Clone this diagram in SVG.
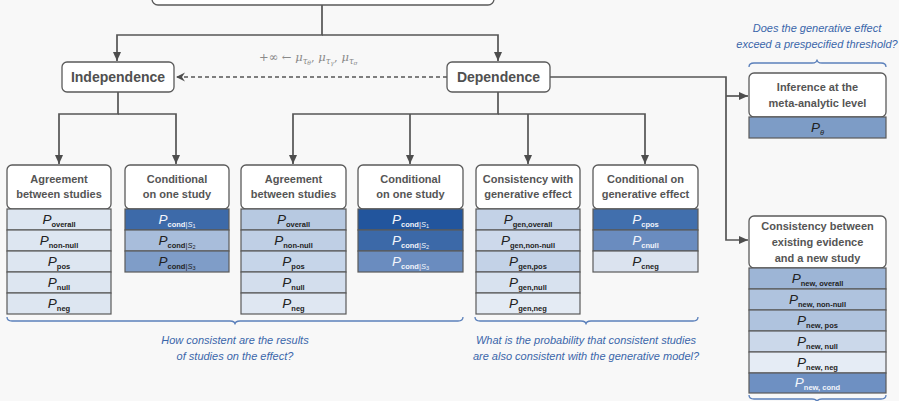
<svg xmlns="http://www.w3.org/2000/svg" width="899" height="401" viewBox="0 0 899 401">
<style>
.bg{fill:#f8f8f8}
.box{fill:#ffffff;stroke:#5a5a5a;stroke-width:1.3}
.row{stroke:#5a5a5a;stroke-width:1.2}
.t{font-family:"Liberation Sans",Arial,sans-serif;font-weight:bold;font-size:11px;fill:#555555;text-anchor:middle}
.big{font-family:"Liberation Sans",Arial,sans-serif;font-weight:bold;font-size:14px;fill:#505050;text-anchor:middle}
.lab{font-family:"Liberation Sans",Arial,sans-serif;font-size:13.5px;fill:#222222;text-anchor:middle}
.w{fill:#f2f5fb}
.p{font-style:italic}
.sb{font-weight:bold;font-size:7.5px}
.si{font-style:italic;font-size:7.5px}
.ss{font-size:5.5px}
.q{font-family:"Liberation Sans",Arial,sans-serif;font-style:italic;font-size:11px;fill:#3a66aa;text-anchor:middle}
.brace{fill:none;stroke:#5b80bb;stroke-width:1.3}
.con{fill:none;stroke:#555555;stroke-width:1.7}
.dash{fill:none;stroke:#555555;stroke-width:1.7;stroke-dasharray:4,3}
.math{font-family:"DejaVu Serif","Liberation Serif",serif;font-size:11.5px;fill:#8a8a8a}
</style>
<defs>
<marker id="ah" markerUnits="userSpaceOnUse" markerWidth="10" markerHeight="10" refX="9" refY="4" orient="auto">
<path d="M0,0 L9,4 L0,8 z" fill="#4d4d4d"/>
</marker>
<marker id="ahd" markerUnits="userSpaceOnUse" markerWidth="12" markerHeight="10" refX="9" refY="4.5" orient="auto">
<path d="M0,0 L9,4.5 L0,9 L3,4.5 z" fill="#4d4d4d"/>
</marker>
</defs>
<rect class="bg" x="0" y="0" width="899" height="401"/>

<g id="connectors">
<path class="con" d="M322,5 V35 H117 V61" marker-end="url(#ah)"/>
<path class="con" d="M322,35 H498 V61" marker-end="url(#ah)"/>
<path class="con" d="M118,92 V114 H59 V164" marker-end="url(#ah)"/>
<path class="con" d="M118,114 H176 V164" marker-end="url(#ah)"/>
<path class="con" d="M498,92 V114 H293 V164" marker-end="url(#ah)"/>
<path class="con" d="M410,114 V164" marker-end="url(#ah)"/>
<path class="con" d="M498,114 H645 V164" marker-end="url(#ah)"/>
<path class="con" d="M528,114 V164" marker-end="url(#ah)"/>
<path class="con" d="M550,77 H726 V240 H748" marker-end="url(#ah)"/>
<path class="con" d="M726,96 H748" marker-end="url(#ah)"/>
<path class="dash" d="M447,77 H176" marker-end="url(#ahd)"/>
<text class="math" x="259" y="61">+∞ ← <tspan font-style="italic">μ</tspan><tspan font-style="italic" font-size="8.5" dy="2.5">τ</tspan><tspan font-style="italic" font-size="6" dy="1.5">θ</tspan><tspan dy="-4">, </tspan><tspan font-style="italic">μ</tspan><tspan font-style="italic" font-size="8.5" dy="2.5">τ</tspan><tspan font-style="italic" font-size="6" dy="1.5">γ</tspan><tspan dy="-4">, </tspan><tspan font-style="italic">μ</tspan><tspan font-style="italic" font-size="8.5" dy="2.5">τ</tspan><tspan font-style="italic" font-size="6" dy="1.5">σ</tspan></text>
</g>

<g id="root">
<rect class="box" x="152" y="-40" width="342" height="45" rx="6"/>
</g>

<g id="independence">
<rect class="box" x="62" y="62" width="112" height="30" rx="5"/>
<text class="big" x="118" y="82">Independence</text>
</g>

<g id="dependence">
<rect class="box" x="447" y="62" width="103" height="30" rx="5"/>
<text class="big" x="498.5" y="82">Dependence</text>
</g>

<g id="agree-ind">
<rect class="box" x="7" y="165" width="104" height="44" rx="5"/>
<text class="t" x="59" y="183">Agreement</text>
<text class="t" x="59" y="198">between studies</text>
<rect class="row" x="7" y="209" width="104" height="21" fill="#dde6f1"/>
<rect class="row" x="7" y="230" width="104" height="21" fill="#dde6f1"/>
<rect class="row" x="7" y="251" width="104" height="21" fill="#dde6f1"/>
<rect class="row" x="7" y="272" width="104" height="21" fill="#dde6f1"/>
<rect class="row" x="7" y="293" width="104" height="21" fill="#dde6f1"/>
<text class="lab" x="59" y="224"><tspan class="p">P</tspan><tspan class="sb" dy="2.5">overall</tspan></text>
<text class="lab" x="59" y="245"><tspan class="p">P</tspan><tspan class="sb" dy="2.5">non-null</tspan></text>
<text class="lab" x="59" y="266"><tspan class="p">P</tspan><tspan class="sb" dy="2.5">pos</tspan></text>
<text class="lab" x="59" y="287"><tspan class="p">P</tspan><tspan class="sb" dy="2.5">null</tspan></text>
<text class="lab" x="59" y="308"><tspan class="p">P</tspan><tspan class="sb" dy="2.5">neg</tspan></text>
</g>

<g id="cond-ind">
<rect class="box" x="125" y="165" width="104" height="44" rx="5"/>
<text class="t" x="177" y="183">Conditional</text>
<text class="t" x="177" y="198">on one study</text>
<rect class="row" x="125" y="209" width="104" height="21" fill="#3d6aa9"/>
<rect class="row" x="125" y="230" width="104" height="21" fill="#a8bddb"/>
<rect class="row" x="125" y="251" width="104" height="21" fill="#7f9dc8"/>
<text class="lab w" x="177" y="224"><tspan class="p">P</tspan><tspan class="sb" dy="2.5">cond</tspan><tspan font-size="7.5">|</tspan><tspan class="si">S</tspan><tspan class="ss" dy="1.5">1</tspan></text>
<text class="lab" x="177" y="245"><tspan class="p">P</tspan><tspan class="sb" dy="2.5">cond</tspan><tspan font-size="7.5">|</tspan><tspan class="si">S</tspan><tspan class="ss" dy="1.5">2</tspan></text>
<text class="lab" x="177" y="266"><tspan class="p">P</tspan><tspan class="sb" dy="2.5">cond</tspan><tspan font-size="7.5">|</tspan><tspan class="si">S</tspan><tspan class="ss" dy="1.5">3</tspan></text>
</g>

<g id="agree-dep">
<rect class="box" x="241" y="165" width="105" height="44" rx="5"/>
<text class="t" x="293.5" y="183">Agreement</text>
<text class="t" x="293.5" y="198">between studies</text>
<rect class="row" x="241" y="209" width="105" height="21" fill="#b7c9e1"/>
<rect class="row" x="241" y="230" width="105" height="21" fill="#bfcfe5"/>
<rect class="row" x="241" y="251" width="105" height="21" fill="#c6d5e9"/>
<rect class="row" x="241" y="272" width="105" height="21" fill="#d3deed"/>
<rect class="row" x="241" y="293" width="105" height="21" fill="#dfe7f2"/>
<text class="lab" x="293.5" y="224"><tspan class="p">P</tspan><tspan class="sb" dy="2.5">overall</tspan></text>
<text class="lab" x="293.5" y="245"><tspan class="p">P</tspan><tspan class="sb" dy="2.5">non-null</tspan></text>
<text class="lab" x="293.5" y="266"><tspan class="p">P</tspan><tspan class="sb" dy="2.5">pos</tspan></text>
<text class="lab" x="293.5" y="287"><tspan class="p">P</tspan><tspan class="sb" dy="2.5">null</tspan></text>
<text class="lab" x="293.5" y="308"><tspan class="p">P</tspan><tspan class="sb" dy="2.5">neg</tspan></text>
</g>

<g id="cond-dep">
<rect class="box" x="358" y="165" width="105" height="44" rx="5"/>
<text class="t" x="410.5" y="183">Conditional</text>
<text class="t" x="410.5" y="198">on one study</text>
<rect class="row" x="358" y="209" width="105" height="21" fill="#22559d"/>
<rect class="row" x="358" y="230" width="105" height="21" fill="#3c69a8"/>
<rect class="row" x="358" y="251" width="105" height="21" fill="#6a8cbf"/>
<text class="lab w" x="410.5" y="224"><tspan class="p">P</tspan><tspan class="sb" dy="2.5">cond</tspan><tspan font-size="7.5">|</tspan><tspan class="si">S</tspan><tspan class="ss" dy="1.5">1</tspan></text>
<text class="lab w" x="410.5" y="245"><tspan class="p">P</tspan><tspan class="sb" dy="2.5">cond</tspan><tspan font-size="7.5">|</tspan><tspan class="si">S</tspan><tspan class="ss" dy="1.5">2</tspan></text>
<text class="lab w" x="410.5" y="266"><tspan class="p">P</tspan><tspan class="sb" dy="2.5">cond</tspan><tspan font-size="7.5">|</tspan><tspan class="si">S</tspan><tspan class="ss" dy="1.5">3</tspan></text>
</g>

<g id="consistency-gen">
<rect class="box" x="476" y="165" width="104" height="44" rx="5"/>
<text class="t" x="528" y="183">Consistency with</text>
<text class="t" x="528" y="198">generative effect</text>
<rect class="row" x="476" y="209" width="104" height="21" fill="#c3d2e7"/>
<rect class="row" x="476" y="230" width="104" height="21" fill="#cdd9eb"/>
<rect class="row" x="476" y="251" width="104" height="21" fill="#c3d2e7"/>
<rect class="row" x="476" y="272" width="104" height="21" fill="#d8e2ef"/>
<rect class="row" x="476" y="293" width="104" height="21" fill="#e4ebf4"/>
<text class="lab" x="528" y="224"><tspan class="p">P</tspan><tspan class="sb" dy="2.5">gen,overall</tspan></text>
<text class="lab" x="528" y="245"><tspan class="p">P</tspan><tspan class="sb" dy="2.5">gen,non-null</tspan></text>
<text class="lab" x="528" y="266"><tspan class="p">P</tspan><tspan class="sb" dy="2.5">gen,pos</tspan></text>
<text class="lab" x="528" y="287"><tspan class="p">P</tspan><tspan class="sb" dy="2.5">gen,null</tspan></text>
<text class="lab" x="528" y="308"><tspan class="p">P</tspan><tspan class="sb" dy="2.5">gen,neg</tspan></text>
</g>

<g id="cond-gen">
<rect class="box" x="593" y="165" width="105" height="44" rx="5"/>
<text class="t" x="645.5" y="183">Conditional on</text>
<text class="t" x="645.5" y="198">generative effect</text>
<rect class="row" x="593" y="209" width="105" height="21" fill="#416fad"/>
<rect class="row" x="593" y="230" width="105" height="21" fill="#6a8cbf"/>
<rect class="row" x="593" y="251" width="105" height="21" fill="#dbe3ef"/>
<text class="lab w" x="645.5" y="224"><tspan class="p">P</tspan><tspan class="sb" dy="2.5">cpos</tspan></text>
<text class="lab w" x="645.5" y="245"><tspan class="p">P</tspan><tspan class="sb" dy="2.5">cnull</tspan></text>
<text class="lab" x="645.5" y="266"><tspan class="p">P</tspan><tspan class="sb" dy="2.5">cneg</tspan></text>
</g>

<g id="inference">
<rect class="box" x="749" y="73" width="137" height="44" rx="5"/>
<text class="t" x="817.5" y="91">Inference at the</text>
<text class="t" x="817.5" y="107">meta-analytic level</text>
<rect class="row" x="749" y="117" width="137" height="21" fill="#7d9cc6"/>
<text class="lab" x="817.5" y="132" fill="#e3eaf5"><tspan class="p">P</tspan><tspan class="si" dy="2.5">θ</tspan></text>
</g>

<g id="new-study">
<rect class="box" x="749" y="216" width="137" height="52" rx="5"/>
<text class="t" x="817.5" y="230">Consistency between</text>
<text class="t" x="817.5" y="246">existing evidence</text>
<text class="t" x="817.5" y="262">and a new study</text>
<rect class="row" x="749" y="268" width="137" height="21" fill="#9db5d6"/>
<rect class="row" x="749" y="289" width="137" height="21" fill="#afc3de"/>
<rect class="row" x="749" y="310" width="137" height="21" fill="#afc3de"/>
<rect class="row" x="749" y="331" width="137" height="21" fill="#cbd8ea"/>
<rect class="row" x="749" y="352" width="137" height="21" fill="#e5ecf5"/>
<rect class="row" x="749" y="373" width="137" height="20" fill="#6e90c2"/>
<text class="lab" x="817.5" y="283"><tspan class="p">P</tspan><tspan class="sb" dy="2.5">new, overall</tspan></text>
<text class="lab" x="817.5" y="304"><tspan class="p">P</tspan><tspan class="sb" dy="2.5">new, non-null</tspan></text>
<text class="lab" x="817.5" y="325"><tspan class="p">P</tspan><tspan class="sb" dy="2.5">new, pos</tspan></text>
<text class="lab" x="817.5" y="346"><tspan class="p">P</tspan><tspan class="sb" dy="2.5">new, null</tspan></text>
<text class="lab" x="817.5" y="367"><tspan class="p">P</tspan><tspan class="sb" dy="2.5">new, neg</tspan></text>
<text class="lab w" x="817.5" y="387"><tspan class="p">P</tspan><tspan class="sb" dy="2.5">new, cond</tspan></text>
</g>

<g id="annotations">
<path class="brace" d="M7,317 Q7,321 12,321 H230 Q235,321 235,324.5 Q235,321 240,321 H458 Q463,321 463,317"/>
<path class="brace" d="M475,317 Q475,321 480,321 H581 Q586,321 586,324.5 Q586,321 591,321 H693 Q698,321 698,317"/>
<path class="brace" d="M749,395 Q749,399 754,399 H812 Q817,399 817,402.5 Q817,399 822,399 H881 Q886,399 886,395"/>
<path class="brace" d="M749,67 Q749,63 754,63 H812 Q817,63 817,59.5 Q817,63 822,63 H881 Q886,63 886,67"/>
<text class="q" x="235" y="344">How consistent are the results</text>
<text class="q" x="235" y="360">of studies on the effect?</text>
<text class="q" x="586" y="344">What is the probability that consistent studies</text>
<text class="q" x="586" y="360">are also consistent with the generative model?</text>
<text class="q" x="817" y="32">Does the generative effect</text>
<text class="q" x="817" y="48">exceed a prespecified threshold?</text>
</g>
</svg>
